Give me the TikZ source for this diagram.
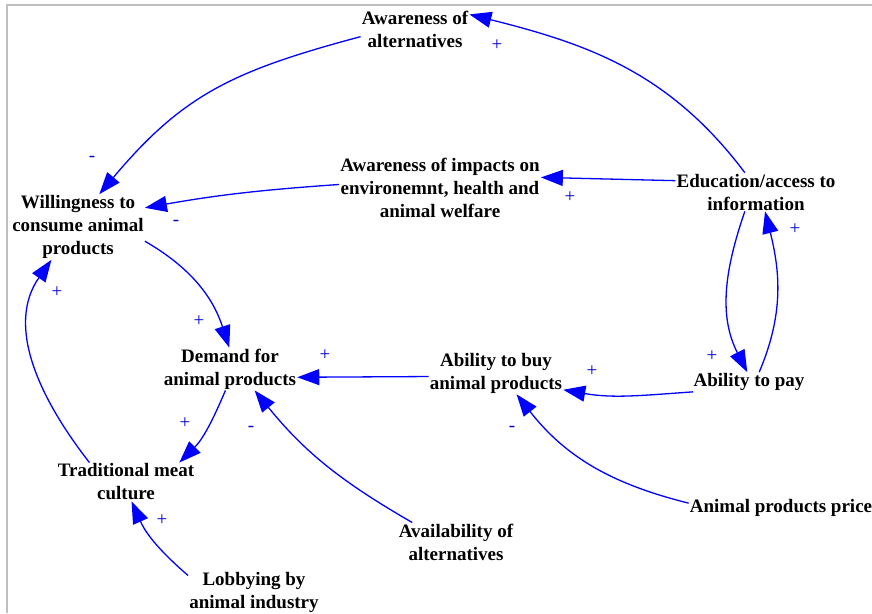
\documentclass[tikz,border=0pt]{standalone}
\usepackage{fontspec}
\setmainfont{Liberation Serif}
\usetikzlibrary{arrows.meta}

\begin{document}
\begin{tikzpicture}[
  x=1pt, y=1pt,
  var/.style={align=center, inner sep=1pt, font=\bfseries\fontsize{19}{23}\selectfont},
  link/.style={draw=blue, line width=1.3pt, -{Triangle[length=22pt, width=16pt]}},
  sign/.style={text=blue!80!black, inner sep=0pt, font=\fontsize{19}{19}\selectfont}
]
  \useasboundingbox (0,0) rectangle (872,-613);
  \draw[gray!50, line width=1.5pt] (7,-613) -- (7,-5) -- (872,-5);

  \node[var] (altaw) at (415,-29) {Awareness of\\alternatives};
  \node[var] (will) at (78,-227) {Willingness to\\consume animal\\products};
  \node[var] (impact) at (440,-188) {Awareness of impacts on\\environemnt, health and\\animal welfare};
  \node[var] (edu) at (756,-192) {Education/access to\\information};
  \node[var] (demand) at (230,-369) {Demand for\\animal products};
  \node[var] (buy) at (496,-373) {Ability to buy\\animal products};
  \node[var] (pay) at (749,-382) {Ability to pay};
  \node[var] (trad) at (126,-482) {Traditional meat\\culture};
  \node[var] (lobby) at (254,-592) {Lobbying by\\animal industry};
  \node[var] (avail) at (456,-542) {Availability of\\alternatives};
  \node[var] (price) at (781,-508) {Animal products price};

  \draw[link] (edu.120) to[out=127, in=-14] (altaw.15);
  \draw[link] (altaw.188) to[out=195, in=50, looseness=1.1] (will.57);
  \draw[link] (edu.172) -- (impact.6);
  \draw[link] (impact.178) to[out=184, in=10] (will.16);
  \draw[link] (will.-12) to[out=-30, in=108] (demand.92);
  \draw[link] (demand.258) to[out=247, in=45] (trad.20);
  \draw[link] (trad.152) to[out=128, in=235] (will.231);
  \draw[link] (lobby.166) to[out=139, in=294] (trad.286);
  \draw[link] (avail.156) to[out=150, in=-51] (demand.-41);
  \draw[link] (buy.183) -- (demand.-7);
  \draw[link] (pay.190) to[out=184, in=-10] (buy.-14);
  \draw[link] (price.177) to[out=166, in=-52] (buy.-46);
  \draw[link] (edu.240) to[out=251, in=117] (pay.100);
  \draw[link] (pay.44) to[out=67, in=-76] (edu.-65);

  \node[sign] (s1) at (497,-45) {+};
  \node[sign] (s2) at (92,-159) {-};
  \node[sign] (s3) at (570,-197) {+};
  \node[sign] (s4) at (176,-223) {-};
  \node[sign] (s5) at (199,-321) {+};
  \node[sign] (s6) at (185,-423) {+};
  \node[sign] (s7) at (57,-292) {+};
  \node[sign] (s8) at (162,-520) {+};
  \node[sign] (s9) at (251,-429) {-};
  \node[sign] (s10) at (325,-355) {+};
  \node[sign] (s11) at (592,-371) {+};
  \node[sign] (s12) at (512,-429) {-};
  \node[sign] (s13) at (712,-356) {+};
  \node[sign] (s14) at (795,-229) {+};
\end{tikzpicture}
\end{document}
